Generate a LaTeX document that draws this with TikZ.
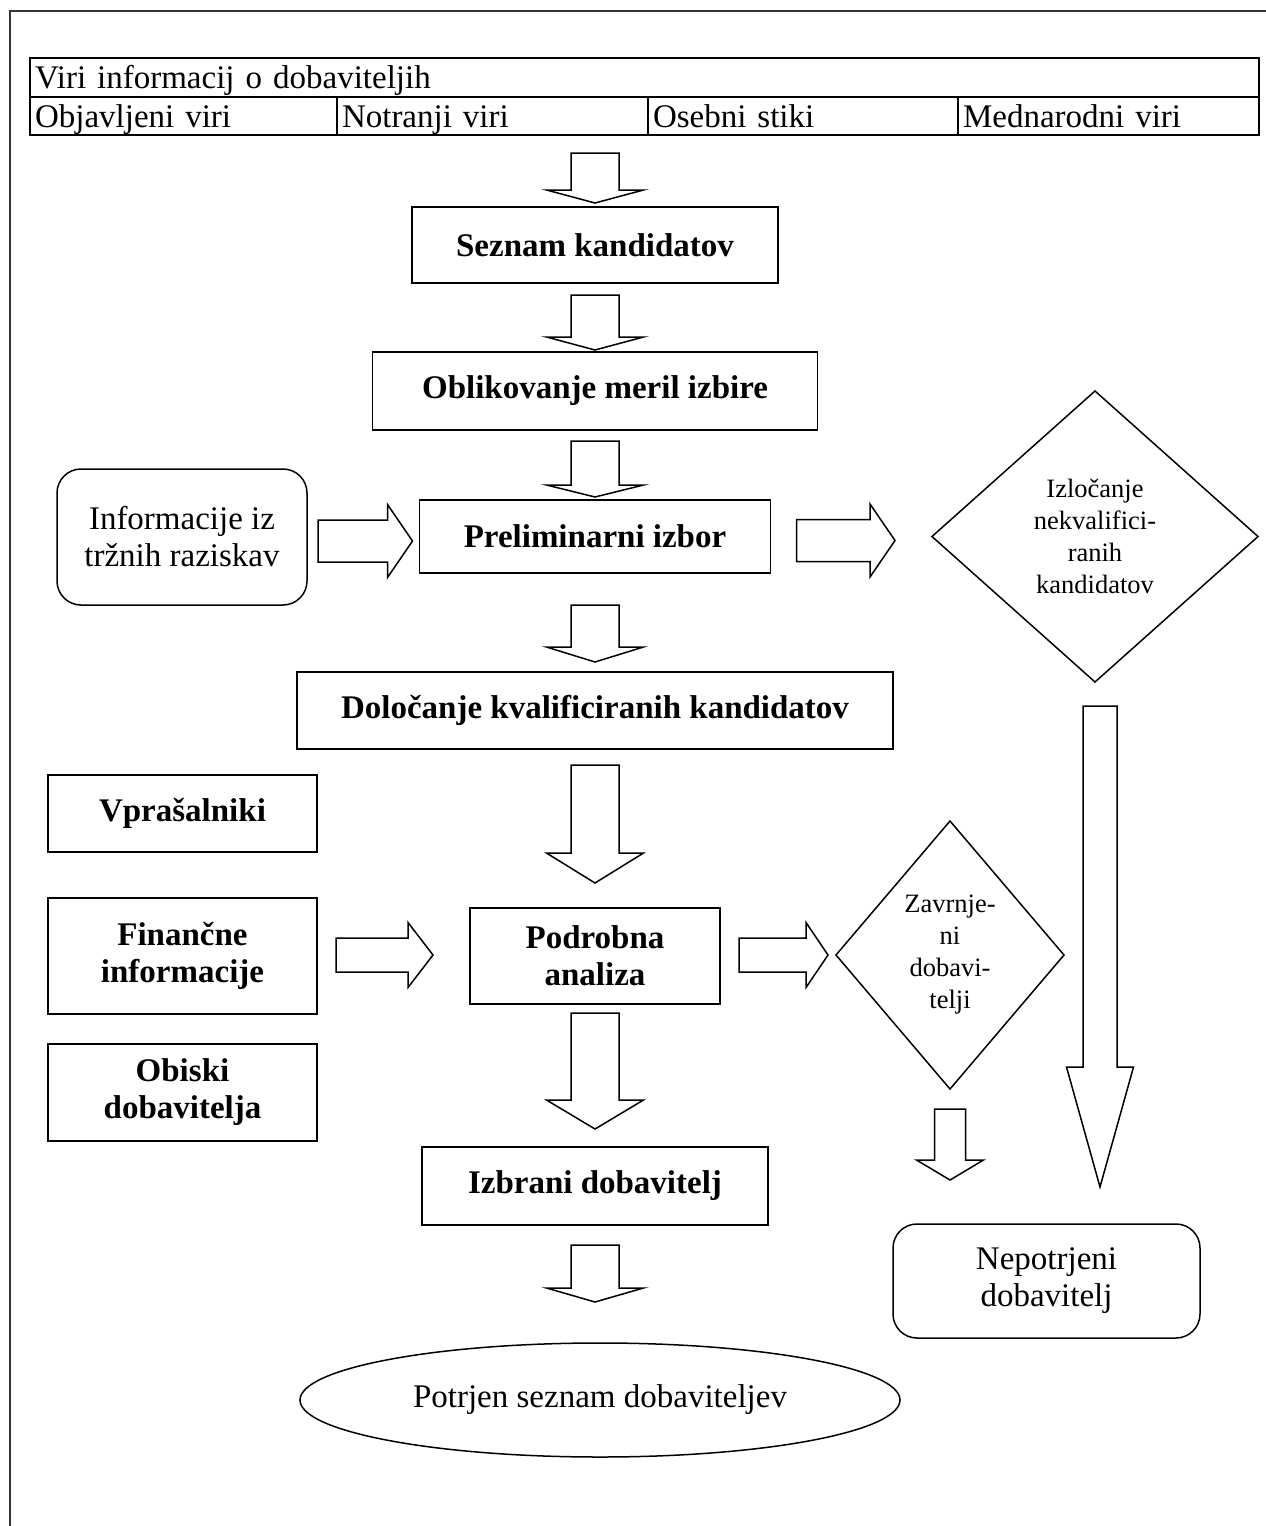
\documentclass[tikz,border=0pt]{standalone}
\usepackage{fontspec}
\setmainfont{Liberation Serif}
\usetikzlibrary{positioning}
\usetikzlibrary{shapes.geometric}
\usetikzlibrary{calc}
\newcommand{\normaltext}{\fontsize{33}{37}\selectfont}
\newcommand{\smalltext}{\fontsize{26.5}{32}\selectfont}

\begin{document}
\begin{tikzpicture}[x=1pt, y=-1pt,
                    every node/.style={inner sep=0pt, outer sep=0pt},
                    cell/.style={
                        draw, line width=2pt, font=\normaltext,
                        minimum height=38.5pt, inner xsep=5pt,
                        text height=27pt, text depth=4pt,
                        align=left, anchor=north west
                    },
                    stepbox/.style={
                        draw, line width=1.5pt, align=center,
                        font=\normaltext\bfseries
                    },
                    roundbox/.style={
                        draw, line width=1.5pt, align=center,
                        rounded corners=24pt, font=\normaltext
                    },
                    choice/.style={
                        draw, diamond, line width=1.5pt, align=center,
                        font=\smalltext
                    },
                    blockarrow/.style={line width=1.5pt, line join=miter},
                    blockdown/.style n args={3}{
                        to path={let \p1=(\tikztostart), \p2=(\tikztotarget) in
                            (\x1-#1pt,\y1) -- (\x1-#1pt,\y2+#3pt) -- (\x1-#2pt,\y2+#3pt)
                            -- (\x1,\y2) -- (\x1+#2pt,\y2+#3pt) -- (\x1+#1pt,\y2+#3pt)
                            -- (\x1+#1pt,\y1) -- cycle}
                    },
                    blockright/.style n args={3}{
                        to path={let \p1=(\tikztostart), \p2=(\tikztotarget) in
                            (\x1,\y1+#1pt) -- (\x2-#3pt,\y1+#1pt) -- (\x2-#3pt,\y1+#2pt)
                            -- (\x2,\y1) -- (\x2-#3pt,\y1-#2pt) -- (\x2-#3pt,\y1-#1pt)
                            -- (\x1,\y1-#1pt) -- cycle}
                    }]

    \useasboundingbox (0,0) rectangle (1266,1526);
    \draw[line width=2pt, black!80] (10,1526) -- (10,11) -- (1266,11);

    % sources table
    \node[cell, text width=1219pt] (hdr) at (30,58) {Viri informacij o dobaviteljih};
    \node[cell, text width=297pt] (c1) at (hdr.south west) {Objavljeni viri};
    \node[cell, text width=301pt, right=0pt of c1] (c2) {Notranji viri};
    \node[cell, text width=300pt, right=0pt of c2] (c3) {Osebni stiki};
    \node[cell, text width=291pt, right=0pt of c3] (c4) {Mednarodni viri};

    % main column
    \node[stepbox, minimum width=366pt, minimum height=76pt] (seznam) at (595,245) {Seznam kandidatov};
    \node[stepbox, minimum width=445pt, minimum height=78pt, below=69pt of seznam] (oblik) {Oblikovanje meril izbire};
    \node[stepbox, minimum width=351pt, minimum height=73pt, below=70pt of oblik] (prelim) {Preliminarni izbor};
    \node[stepbox, minimum width=596pt, minimum height=77pt, below=99pt of prelim] (doloc) {Določanje kvalificiranih kandidatov};
    \node[stepbox, minimum width=250pt, minimum height=96pt, below=159pt of doloc] (podr) {Podrobna\\analiza};
    \node[stepbox, minimum width=346pt, minimum height=78pt, below=143pt of podr] (izbr) {Izbrani dobavitelj};
    \node[draw, ellipse, line width=1.5pt, font=\normaltext, minimum width=600pt, minimum height=114pt,
          below=118pt of izbr, xshift=5pt] (result) {Potrjen seznam dobaviteljev};

    % side nodes
    \node[roundbox, minimum width=250pt, minimum height=136pt] (info) at (182,537) {Informacije iz\\tržnih raziskav};
    \node[choice, minimum width=326pt, minimum height=291pt] (izl) at (1095,536.5) {Izločanje\\nekvalifici-\\ranih\\kandidatov};
    \node[stepbox, minimum width=269pt, minimum height=77pt] (vpras) at (182.5,813.5) {Vprašalniki};
    \node[stepbox, minimum width=269pt, minimum height=116pt] (fin) at (182.5,956) {Finančne\\informacije};
    \node[stepbox, minimum width=269pt, minimum height=97pt] (obiski) at (182.5,1092.5) {Obiski\\dobavitelja};
    \node[choice, minimum width=228pt, minimum height=268pt] (zav) at (950,955) {Zavrnje-\\ni\\dobavi-\\telji};
    \node[roundbox, minimum width=307pt, minimum height=114pt] (nep) at (1046.5,1281) {Nepotrjeni\\dobavitelj};

    % block arrows
    \coordinate (a1) at (seznam.north |- c1.south);
    \draw[blockarrow, blockdown={24}{48.5}{13}] ([yshift=-18pt]a1) to ([yshift=4pt]seznam.north);
    \draw[blockarrow, blockdown={24}{48.5}{13}] ([yshift=-12pt]seznam.south) to ([yshift=2pt]oblik.north);
    \draw[blockarrow, blockdown={24}{48.5}{12}] ([yshift=-11pt]oblik.south) to ([yshift=3pt]prelim.north);
    \draw[blockarrow, blockdown={24}{48.5}{15}] ([yshift=-32pt]prelim.south) to ([yshift=10pt]doloc.north);
    \draw[blockarrow, blockdown={24}{48.5}{30}] ([yshift=-16pt]doloc.south) to ([yshift=25pt]podr.north);
    \draw[blockarrow, blockdown={24}{48.5}{29}] ([yshift=-9pt]podr.south) to ([yshift=18pt]izbr.north);
    \draw[blockarrow, blockdown={24}{48.5}{14}] ([yshift=-20pt]izbr.south) to ([yshift=41pt]result.north);

    \draw[blockarrow, blockright={21}{36.5}{25}] ([xshift=11pt,yshift=-4pt]info.east) to ([xshift=-7pt]prelim.west);
    \draw[blockarrow, blockright={21}{36.5}{25}] ([xshift=26pt,yshift=-4pt]prelim.east) to ([xshift=-37pt]izl.west);
    \draw[blockarrow, blockright={17}{32.5}{25}] ([xshift=19pt,yshift=1pt]fin.east) to ([xshift=-37pt]podr.west);
    \draw[blockarrow, blockright={17}{32.5}{22}] ([xshift=19pt,yshift=1pt]podr.east) to ([xshift=-8pt]zav.west);

    \draw[blockarrow, blockdown={15.5}{33.5}{20}] ([yshift=-20pt]zav.south) to ([yshift=44pt]nep.north);
    \draw[blockarrow, blockdown={17}{33.5}{120}] ([xshift=5pt,yshift=-24pt]izl.south) to ([yshift=37pt]nep.north);

\end{tikzpicture}
\end{document}
